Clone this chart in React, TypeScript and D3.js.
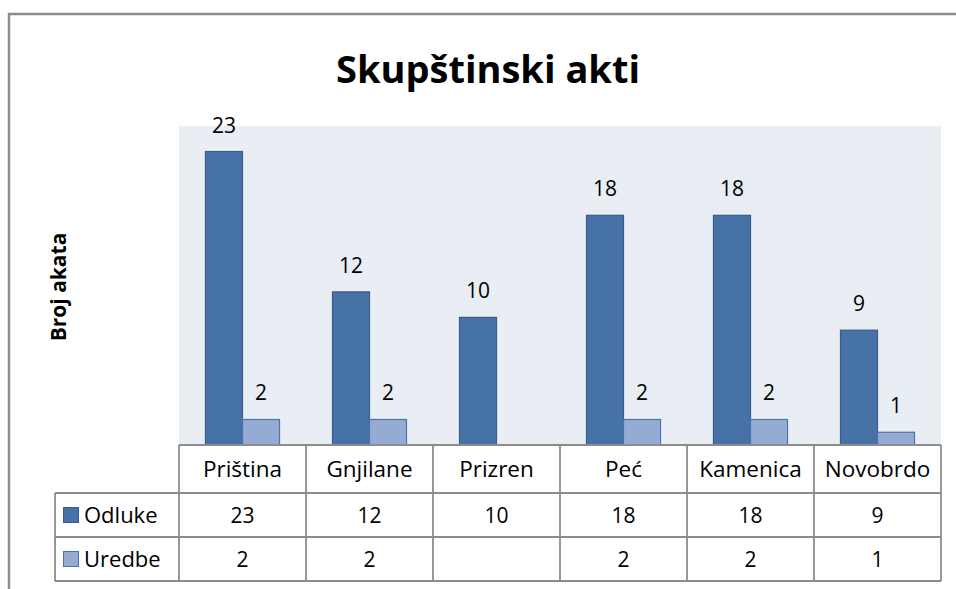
import React, { useEffect, useRef } from "react";
import * as d3 from "d3";

const categories = ["Priština", "Gnjilane", "Prizren", "Peć", "Kamenica", "Novobrdo"];
const seriesNames = ["Odluke", "Uredbe"];
const odluke: (number | null)[] = [23, 12, 10, 18, 18, 9];
const uredbe: (number | null)[] = [2, 2, null, 2, 2, 1];

const colors = ["#4672a8", "#96abd4"];
const strokes = ["#385d8a", "#4a74ad"];

const width = 956;
const height = 589;
const plot = { left: 179, right: 941, top: 126, bottom: 445 };
const rows = [445, 493, 537, 581];
const legendLeft = 55;
const font = "'Open Sans', sans-serif";

export default function App() {
  const ref = useRef<SVGSVGElement>(null);

  useEffect(() => {
    const svg = d3.select(ref.current);
    svg.selectAll("*").remove();

    const values = [odluke, uredbe];

    // outer frame
    svg
      .append("rect")
      .attr("x", 9)
      .attr("y", 14)
      .attr("width", width + 20)
      .attr("height", height + 20)
      .attr("fill", "#fff")
      .attr("stroke", "#8c8c8c")
      .attr("stroke-width", 2.5);

    svg
      .append("text")
      .attr("x", 488)
      .attr("y", 83)
      .attr("text-anchor", "middle")
      .attr("font-family", font)
      .attr("font-weight", "bold")
      .attr("font-size", 38)
      .text("Skupštinski akti");

    svg
      .append("text")
      .attr("transform", "translate(66, 287) rotate(-90)")
      .attr("text-anchor", "middle")
      .attr("font-family", font)
      .attr("font-weight", "bold")
      .attr("font-size", 21)
      .text("Broj akata");

    svg
      .append("rect")
      .attr("x", plot.left)
      .attr("y", plot.top)
      .attr("width", plot.right - plot.left)
      .attr("height", plot.bottom - plot.top)
      .attr("fill", "#e9edf4");

    const x = d3
      .scaleBand()
      .domain(categories)
      .range([plot.left, plot.right])
      .paddingInner(0.417)
      .paddingOuter(0.2085);
    const step = x.step();
    const x1 = d3.scaleBand().domain(seriesNames).range([0, x.bandwidth()]);
    const y = d3.scaleLinear().domain([0, 25]).range([plot.bottom, plot.top]);

    seriesNames.forEach((s, si) => {
      const data = categories.map((c, i) => ({ c, v: values[si][i] }));
      const g = svg.append("g");
      g.selectAll("rect")
        .data(data.filter((d) => d.v !== null))
        .join("rect")
        .attr("x", (d) => (x(d.c) as number) + (x1(s) as number))
        .attr("y", (d) => y(d.v as number))
        .attr("width", x1.bandwidth())
        .attr("height", (d) => y(0) - y(d.v as number))
        .attr("fill", colors[si])
        .attr("stroke", strokes[si])
        .attr("stroke-width", 1.2);
      g.selectAll("text")
        .data(data.filter((d) => d.v !== null))
        .join("text")
        .attr("x", (d) => (x(d.c) as number) + (x1(s) as number) + x1.bandwidth() / 2)
        .attr("y", (d) => y(d.v as number) - 19)
        .attr("text-anchor", "middle")
        .attr("font-family", font)
        .attr("font-size", 21)
        .text((d) => String(d.v));
    });

    // data table
    const t = svg.append("g").attr("stroke", "#8c8c8c").attr("stroke-width", 1.8);
    t.append("line").attr("x1", plot.left).attr("x2", plot.right).attr("y1", rows[0]).attr("y2", rows[0]);
    rows.slice(1).forEach((r) =>
      t.append("line").attr("x1", legendLeft).attr("x2", plot.right).attr("y1", r).attr("y2", r)
    );
    t.append("line").attr("x1", legendLeft).attr("x2", legendLeft).attr("y1", rows[1]).attr("y2", rows[3]);
    categories.forEach((c, i) => {
      const xx = plot.left + i * step;
      t.append("line").attr("x1", xx).attr("x2", xx).attr("y1", rows[0]).attr("y2", rows[3]);
    });
    t.append("line").attr("x1", plot.right).attr("x2", plot.right).attr("y1", rows[0]).attr("y2", rows[3]);

    const cellText = (xx: number, row: number, txt: string, anchor = "middle", size = 21) =>
      svg
        .append("text")
        .attr("x", xx)
        .attr("y", (rows[row] + rows[row + 1]) / 2 + 7.5)
        .attr("text-anchor", anchor)
        .attr("font-family", font)
        .attr("font-size", size)
        .text(txt);

    categories.forEach((c) => cellText((x(c) as number) + x.bandwidth() / 2, 0, c, "middle", 22.5));
    seriesNames.forEach((s, si) => {
      const cy = (rows[si + 1] + rows[si + 2]) / 2;
      svg
        .append("rect")
        .attr("x", 63.5)
        .attr("y", cy - 7.5)
        .attr("width", 15)
        .attr("height", 15)
        .attr("fill", colors[si])
        .attr("stroke", strokes[si])
        .attr("stroke-width", 1);
      cellText(84, si + 1, s, "start", 22);
      categories.forEach((c, i) => {
        const v = values[si][i];
        if (v !== null) cellText((x(c) as number) + x.bandwidth() / 2, si + 1, String(v));
      });
    });
  }, []);

  return (
    <div style={{ position: "absolute", left: 0, top: 0 }}>
      <svg ref={ref} width={width} height={height} style={{ display: "block" }} />
    </div>
  );
}
